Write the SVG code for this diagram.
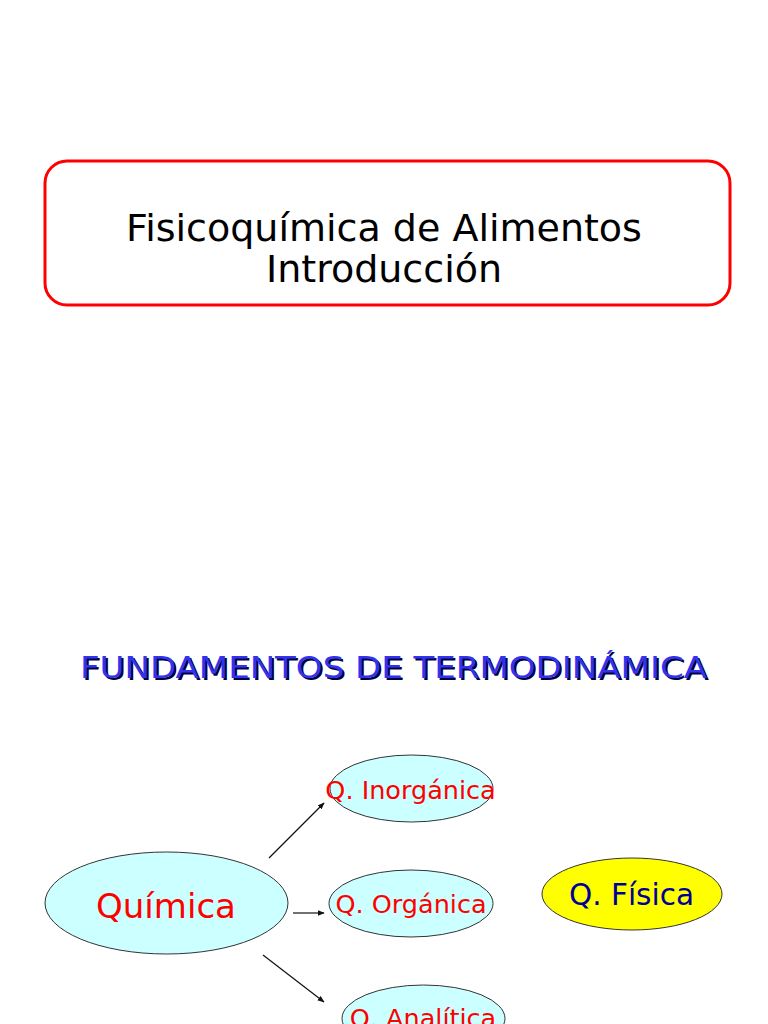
<svg xmlns="http://www.w3.org/2000/svg" width="768" height="1024" viewBox="0 0 768 1024">
<defs>
<style>
text{font-family:"DejaVu Sans","Noto Sans",sans-serif;text-anchor:middle}
.sub{fill:#ccffff;stroke:#333;stroke-width:1}
.red{fill:#ff0000}
.conn{stroke:#111;stroke-width:1.2;fill:none;marker-end:url(#ah)}
</style>
<marker id="ah" viewBox="0 0 10 10" refX="9" refY="5" markerWidth="7" markerHeight="7" markerUnits="userSpaceOnUse" orient="auto"><path d="M0,1 L10,5 L0,9 z" fill="#111"/></marker>
</defs>
<rect width="768" height="1024" fill="#fff"/>
<g id="title">
<rect x="45" y="161" width="685" height="144" rx="22" fill="#fff" stroke="#ff0000" stroke-width="3"/>
<text x="384" y="241" font-size="38" fill="#000">Fisicoquímica de Alimentos</text>
<text x="384" y="282" font-size="38" fill="#000">Introducción</text>
</g>
<g id="heading">
<text x="395.5" y="679.5" font-size="31" fill="#000044" textLength="627" lengthAdjust="spacingAndGlyphs">FUNDAMENTOS DE TERMODINÁMICA</text>
<text x="393.5" y="678" font-size="31" fill="#3333ee" textLength="627" lengthAdjust="spacingAndGlyphs">FUNDAMENTOS DE TERMODINÁMICA</text>
</g>
<g id="connectors">
<line class="conn" x1="269" y1="858" x2="324" y2="803"/>
<line class="conn" x1="293" y1="913" x2="324" y2="913"/>
<line class="conn" x1="263" y1="955" x2="324" y2="1002"/>
</g>
<g id="quimica">
<ellipse class="sub" cx="166.5" cy="903" rx="121.5" ry="51"/>
<text class="red" x="166" y="918" font-size="34">Química</text>
</g>
<g id="inorganica">
<ellipse class="sub" cx="411.5" cy="788.5" rx="81.5" ry="33.5"/>
<text class="red" x="410.5" y="799" font-size="25.5">Q. Inorgánica</text>
</g>
<g id="organica">
<ellipse class="sub" cx="411" cy="903.5" rx="82" ry="33.5"/>
<text class="red" x="411" y="913" font-size="25.5">Q. Orgánica</text>
</g>
<g id="analitica">
<ellipse class="sub" cx="423.5" cy="1018.5" rx="81.5" ry="33.5"/>
<text class="red" x="423" y="1027" font-size="25.5">Q. Analítica</text>
</g>
<g id="fisica">
<ellipse cx="632" cy="894" rx="90" ry="36" fill="#ffff00" stroke="#333" stroke-width="1"/>
<text x="631.5" y="905" font-size="29.5" fill="#000099">Q. Física</text>
</g>
</svg>
